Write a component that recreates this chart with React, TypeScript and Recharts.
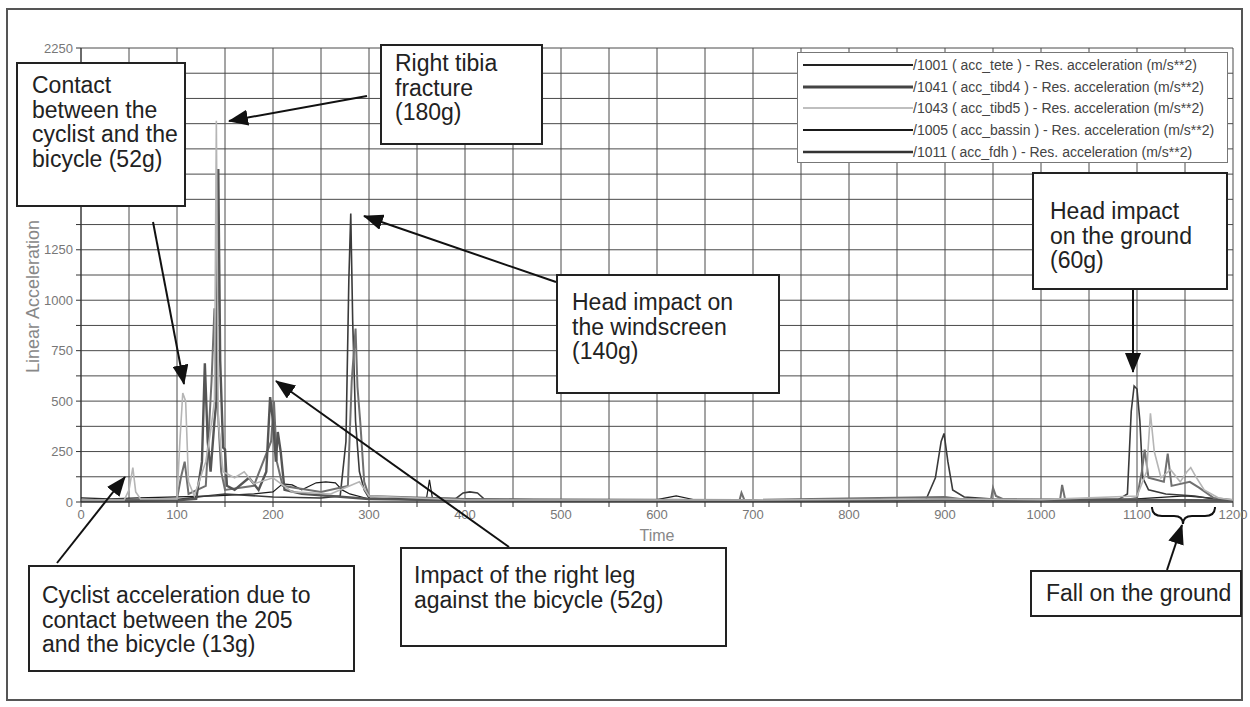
import { LineChart, Line, XAxis, YAxis, CartesianGrid } from 'recharts'

// time axis (ms) and acceleration axis (m/s**2)
const timeTicks = [0, 50, 100, 150, 200, 250, 300, 350, 400, 450, 500, 550, 600, 650, 700, 750, 800, 850, 900, 950, 1000, 1050, 1100, 1150, 1200]
const accTicks = [0, 125, 250, 375, 500, 625, 750, 875, 1000, 1125, 1250, 1375, 1500, 1625, 1750, 1875, 2000, 2125, 2250]
// labels under the "Contact" note are not visible in the original
const accLabels = [0, 250, 500, 750, 1000, 1250, 2250]

const teteTime = [0, 40, 100, 130, 150, 200, 250, 270, 276, 279, 281, 283, 286, 290, 295, 300, 350, 390, 398, 405, 413, 420, 500, 600, 700, 800, 880, 890, 896, 899, 903, 908, 920, 950, 1000, 1080, 1090, 1094, 1097, 1100, 1103, 1106, 1112, 1130, 1160, 1180, 1200]
const teteAcc = [8, 10, 12, 30, 40, 25, 20, 30, 300, 1100, 1430, 900, 400, 150, 60, 20, 10, 15, 45, 50, 45, 15, 8, 10, 8, 8, 10, 120, 300, 340, 200, 60, 25, 15, 12, 10, 40, 450, 575, 560, 400, 120, 60, 40, 30, 15, 10]

const tibd4Time = [0, 40, 100, 120, 126, 129, 132, 135, 139, 141, 143, 145, 148, 150, 152, 160, 175, 185, 193, 197, 200, 203, 205, 208, 212, 230, 260, 300, 400, 600, 800, 900, 1000, 1100, 1200]
const tibd4Acc = [5, 5, 8, 15, 200, 688, 300, 150, 400, 500, 1650, 700, 270, 260, 80, 60, 120, 60, 150, 520, 400, 200, 347, 250, 60, 40, 30, 15, 8, 6, 6, 10, 8, 10, 8]

const tibd5Time = [0, 45, 50, 54, 57, 62, 100, 103, 106, 109, 112, 118, 130, 135, 139, 141, 143, 148, 160, 170, 180, 200, 220, 260, 290, 300, 400, 700, 900, 1000, 1100, 1110, 1114, 1118, 1125, 1135, 1145, 1152, 1156, 1162, 1170, 1185, 1200]
const tibd5Acc = [10, 10, 60, 170, 50, 15, 15, 300, 540, 500, 100, 30, 200, 350, 500, 1890, 400, 150, 120, 150, 90, 120, 50, 40, 100, 30, 10, 10, 15, 12, 30, 150, 440, 250, 120, 160, 100, 150, 170, 120, 60, 20, 10]

const bassinTime = [0, 30, 60, 100, 140, 180, 200, 210, 220, 230, 245, 255, 265, 272, 280, 300, 360, 363, 366, 450, 600, 620, 640, 800, 900, 1000, 1100, 1150, 1200]
const bassinAcc = [20, 15, 20, 25, 30, 40, 50, 90, 85, 60, 95, 100, 95, 60, 40, 15, 20, 110, 20, 10, 12, 30, 10, 10, 15, 10, 15, 30, 10]

const fdhTime = [0, 50, 100, 104, 108, 112, 130, 136, 139, 142, 146, 150, 180, 198, 201, 204, 210, 250, 278, 282, 286, 288, 291, 295, 300, 400, 686, 688, 691, 900, 920, 948, 950, 953, 960, 1000, 1020, 1022, 1025, 1090, 1100, 1105, 1108, 1112, 1128, 1132, 1136, 1155, 1165, 1180, 1200]
const fdhAcc = [10, 12, 15, 120, 200, 40, 80, 600, 960, 500, 150, 60, 80, 300, 500, 200, 80, 50, 80, 600, 860, 570, 390, 100, 30, 15, 10, 45, 10, 25, 12, 15, 70, 30, 15, 12, 15, 85, 15, 12, 20, 150, 260, 120, 100, 240, 80, 100, 70, 20, 10]

const toPoints = (time: number[], acc: number[]) => time.map((t, i) => ({ t, v: acc[i] }))

const series = [
  { key: 'tete', label: '/1001 ( acc_tete ) - Res. acceleration (m/s**2)', color: '#3a3a3a', legendColor: '#222', width: 1.6, legendWidth: 2, data: toPoints(teteTime, teteAcc) },
  { key: 'tibd4', label: '/1041 ( acc_tibd4 ) - Res. acceleration (m/s**2)', color: '#555', legendColor: '#444', width: 2.4, legendWidth: 3, data: toPoints(tibd4Time, tibd4Acc) },
  { key: 'tibd5', label: '/1043 ( acc_tibd5 ) - Res. acceleration (m/s**2)', color: '#b5b5b5', legendColor: '#aaa', width: 1.6, legendWidth: 1.6, data: toPoints(tibd5Time, tibd5Acc) },
  { key: 'bassin', label: '/1005 ( acc_bassin ) - Res. acceleration (m/s**2)', color: '#1a1a1a', legendColor: '#1a1a1a', width: 1.2, legendWidth: 2, data: toPoints(bassinTime, bassinAcc) },
  { key: 'fdh', label: '/1011 ( acc_fdh ) - Res. acceleration (m/s**2)', color: '#707070', legendColor: '#333', width: 2, legendWidth: 2.6, data: toPoints(fdhTime, fdhAcc) },
]
const drawOrder = ['bassin', 'tete', 'fdh', 'tibd4', 'tibd5']

const FONT = '"Liberation Sans", Arial, sans-serif'

type NoteProps = { left: number; top: number; width: number; height: number; padTop: number; padLeft: number; lines: string[]; size?: number }

function Note({ left, top, width, height, padTop, padLeft, lines, size = 23 }: NoteProps) {
  return (
    <div style={{
      position: 'absolute', left, top, width, height, boxSizing: 'border-box',
      border: '2px solid #222', background: '#fff', padding: `${padTop}px 0 0 ${padLeft}px`,
      fontFamily: FONT, fontSize: size, lineHeight: '24.5px', color: '#222', whiteSpace: 'nowrap',
    }}>
      {lines.map((l) => <div key={l}>{l}</div>)}
    </div>
  )
}

const arrows = [
  [57, 563, 125, 477],
  [153, 222, 184, 384],
  [367, 96, 229, 121],
  [556, 282, 364, 216],
  [509, 547, 276, 381],
  [1133, 290, 1133, 372],
  [1167, 570, 1182, 525],
]

export default function App() {
  return (
    <div style={{ position: 'absolute', left: 0, top: 0, width: 1250, height: 707, background: '#fff', overflow: 'hidden' }}>
      <div style={{ position: 'absolute', left: 6, top: 8, width: 1237, height: 693, border: '2px solid #555', boxSizing: 'border-box' }} />
      <div style={{ position: 'absolute', left: 0, top: 0 }}>
        <LineChart width={1250} height={707} margin={{ top: 48, right: 17, bottom: 175, left: 31 }}>
          <CartesianGrid stroke="#4a4a4a" strokeWidth={1} />
          <XAxis
            type="number" dataKey="t" domain={[0, 1200]} ticks={timeTicks} height={30}
            tickFormatter={(v: number) => (v % 100 === 0 ? String(v) : '')}
            tick={{ fontSize: 13, fill: '#777', fontFamily: FONT }} tickSize={5} tickMargin={3}
            stroke="#333" allowDuplicatedCategory={false}
            label={{ content: () => <text x={657} y={541} textAnchor="middle" fontSize={16} fill="#888" fontFamily={FONT}>Time</text> }}
          />
          <YAxis
            type="number" domain={[0, 2250]} ticks={accTicks} width={50}
            tickFormatter={(v: number) => (accLabels.includes(v) ? String(v) : '')}
            tick={{ fontSize: 13, fill: '#777', fontFamily: FONT }} tickSize={5} tickMargin={3}
            stroke="#333"
            label={{ content: () => <text x={33} y={373} transform="rotate(-90 33 373)" textAnchor="start" dominantBaseline="central" fontSize={18} fill="#888" fontFamily={FONT}>Linear Acceleration</text> }}
          />
          {drawOrder.map((k) => {
            const s = series.find((x) => x.key === k)!
            return (
              <Line key={s.key} data={s.data} dataKey="v" name={s.key} type="linear" stroke={s.color}
                strokeWidth={s.width} dot={false} activeDot={false} isAnimationActive={false} />
            )
          })}
        </LineChart>
      </div>

      <div style={{
        position: 'absolute', left: 797, top: 52, width: 431, height: 111, boxSizing: 'border-box',
        border: '1px solid #777', background: '#fff', paddingTop: 1, fontFamily: FONT, fontSize: 14, color: '#444',
      }}>
        {series.map((s) => (
          <div key={s.key} style={{ display: 'flex', alignItems: 'center', height: 21.7, whiteSpace: 'nowrap' }}>
            <svg width={110} height={8} style={{ marginLeft: 5, flex: 'none' }}>
              <line x1={0} y1={4} x2={110} y2={4} stroke={s.legendColor} strokeWidth={s.legendWidth} />
            </svg>
            <span>{s.label}</span>
          </div>
        ))}
      </div>

      <svg width={1250} height={707} style={{ position: 'absolute', left: 0, top: 0, pointerEvents: 'none' }}>
        <defs>
          <marker id="head" markerUnits="userSpaceOnUse" markerWidth={20} markerHeight={16} refX={19} refY={8} orient="auto">
            <path d="M0,0 L20,8 L0,16 z" fill="#111" />
          </marker>
        </defs>
        {arrows.map(([x1, y1, x2, y2], i) => (
          <line key={i} x1={x1} y1={y1} x2={x2} y2={y2} stroke="#111" strokeWidth={2} markerEnd="url(#head)" />
        ))}
        <path d="M1152,507 Q1152,516 1162,516 L1174,516 Q1183,516 1183,524 Q1183,516 1192,516 L1205,516 Q1215,516 1215,507" stroke="#111" strokeWidth={2} fill="none" />
      </svg>

      <Note left={16} top={62} width={170} height={145} padTop={9} padLeft={14} lines={['Contact', 'between the', 'cyclist and the', 'bicycle (52g)']} />
      <Note left={380} top={44} width={163} height={101} padTop={5} padLeft={13} lines={['Right tibia', 'fracture', '(180g)']} />
      <Note left={556} top={274} width={224} height={120} padTop={14} padLeft={14} lines={['Head impact on', 'the windscreen', '(140g)']} />
      <Note left={1032} top={172} width={196} height={118} padTop={25} padLeft={16} lines={['Head impact', 'on the ground', '(60g)']} />
      <Note left={28} top={565} width={327} height={107} padTop={16} padLeft={12} lines={['Cyclist acceleration due to', 'contact between the 205', 'and the bicycle (13g)']} />
      <Note left={400} top={547} width={327} height={100} padTop={14} padLeft={12} lines={['Impact of the right leg', 'against the bicycle (52g)']} />
      <Note left={1030} top={570} width={212} height={47} padTop={9} padLeft={14} lines={['Fall on the ground']} />
    </div>
  )
}
